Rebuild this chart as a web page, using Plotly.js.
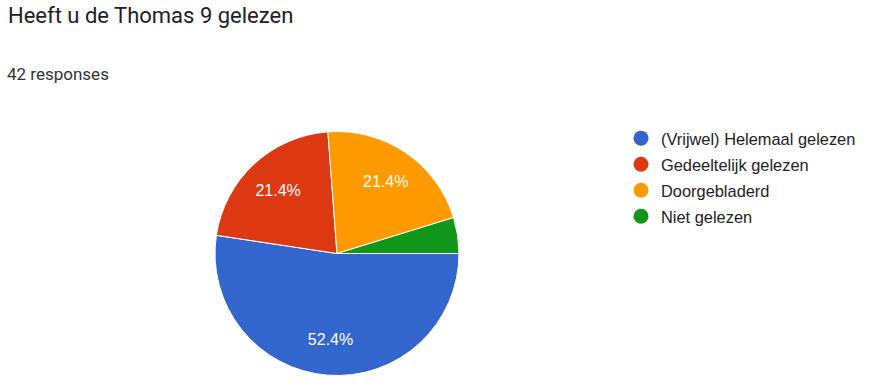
<!DOCTYPE html>
<html>
<head>
<meta charset="utf-8">
<script src="https://cdn.plot.ly/plotly-3.0.1.min.js"></script>
<style>
  html, body { margin: 0; padding: 0; background: #ffffff; }
  #chart { width: 870px; height: 388px; }
</style>
</head>
<body>
<div id="chart"></div>
<script>
// Answers to "Heeft u de Thomas 9 gelezen" (42 responses)
const categories = [
  '(Vrijwel) Helemaal gelezen',
  'Gedeeltelijk gelezen',
  'Doorgebladerd',
  'Niet gelezen'
];
const counts = [22, 9, 9, 2];
const colors = ['#3366cc', '#dc3912', '#ff9900', '#109618'];
const totalResponses = 42;

// Slice labels: the smallest slice is left unlabelled
const labelTemplates = ['%{percent:.1%}', '%{percent:.1%}', '%{percent:.1%}', ''];

const pieDomain = { x: [0.2471, 0.5276], y: [0.0322, 0.661] };

// Filled slices
const pie = {
  type: 'pie',
  labels: categories,
  values: counts,
  sort: false,
  direction: 'clockwise',
  rotation: 90,
  marker: { colors: colors, line: { color: '#ffffff', width: 1 } },
  textinfo: 'none',
  hoverinfo: 'label+value+percent',
  showlegend: false,
  domain: pieDomain
};

// Same slices as a transparent ring, so the percentages sit out towards the rim
const pieLabels = {
  type: 'pie',
  labels: categories,
  values: counts,
  sort: false,
  direction: 'clockwise',
  rotation: 90,
  hole: 0.42,
  marker: { colors: ['rgba(0,0,0,0)', 'rgba(0,0,0,0)', 'rgba(0,0,0,0)', 'rgba(0,0,0,0)'], line: { width: 0 } },
  texttemplate: labelTemplates,
  textposition: 'inside',
  insidetextorientation: 'horizontal',
  insidetextfont: { family: 'Arial, Liberation Sans, sans-serif', size: 16, color: '#ffffff' },
  hoverinfo: 'skip',
  showlegend: false,
  domain: pieDomain
};

// Legend entries with round markers
const legendTraces = categories.map((name, i) => ({
  type: 'scatter',
  mode: 'markers',
  x: [null],
  y: [null],
  name: name,
  legendgroup: 'g' + i,
  marker: { color: colors[i], size: 15, symbol: 'circle' },
  hoverinfo: 'skip'
}));

const layout = {
  width: 870,
  height: 388,
  margin: { l: 0, r: 0, t: 0, b: 0 },
  paper_bgcolor: '#ffffff',
  plot_bgcolor: '#ffffff',
  title: {
    text: 'Heeft u de Thomas 9 gelezen',
    x: 8 / 870,
    xanchor: 'left',
    xref: 'paper',
    y: 1 - 15 / 388,
    yanchor: 'middle',
    yref: 'container',
    font: { family: 'Roboto, sans-serif', size: 22, color: '#202124' }
  },
  annotations: [{
    text: totalResponses + ' responses',
    xref: 'paper', yref: 'paper',
    x: 5 / 870, y: 1 - 74 / 388,
    xanchor: 'left', yanchor: 'middle',
    showarrow: false,
    font: { family: 'Roboto, sans-serif', size: 17, color: '#333333' }
  }],
  xaxis: { visible: false },
  yaxis: { visible: false },
  showlegend: true,
  legend: {
    x: 621 / 870,
    xanchor: 'left',
    y: 1 - 121 / 388,
    yanchor: 'top',
    tracegroupgap: 1.7,
    font: { family: 'Arial, Liberation Sans, sans-serif', size: 16.4, color: '#222222' },
    bgcolor: 'rgba(0,0,0,0)'
  }
};

Plotly.newPlot('chart', [pie, pieLabels].concat(legendTraces), layout, { displayModeBar: false, staticPlot: true });
</script>
</body>
</html>
